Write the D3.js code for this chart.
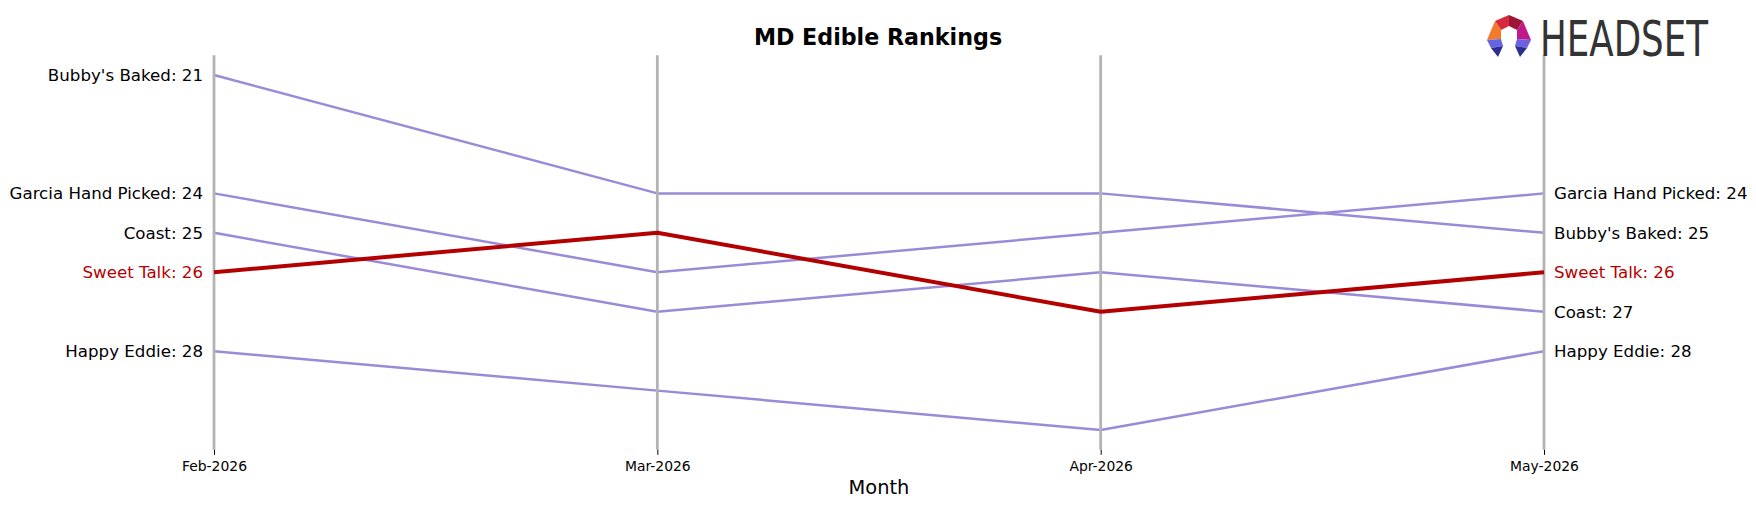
<!DOCTYPE html>
<html>
<head>
<meta charset="utf-8">
<script src="https://cdn.jsdelivr.net/npm/d3@7"></script>
<style>
  html, body { margin: 0; padding: 0; background: #fff; }
  svg { display: block; }
</style>
</head>
<body>
<svg id="chart" width="1756" height="507"></svg>
<script>
// ---- data ----
const months = ["Feb-2026", "Mar-2026", "Apr-2026", "May-2026"];
const brands = ["Bubby's Baked", "Garcia Hand Picked", "Coast", "Sweet Talk", "Happy Eddie"];
const bubbysBaked = [21, 24, 24, 25];
const garciaHandPicked = [24, 26, 25, 24];
const coast = [25, 27, 26, 27];
const sweetTalk = [26, 25, 27, 26];
const happyEddie = [28, 29, 30, 28];
const highlight = "Sweet Talk";
const title = "MD Edible Rankings";
const xLabel = "Month";

const seriesValues = [bubbysBaked, garciaHandPicked, coast, sweetTalk, happyEddie];
const series = brands.map((b, i) => ({ name: b, values: seriesValues[i] }));

// ---- layout ----
const svg = d3.select("#chart");
const font = "DejaVu Sans, sans-serif";
const purple = "#9a8ad8";
const red = "#b30000";

const x = d3.scalePoint().domain(months).range([214, 1544]);
const y = d3.scaleLinear().domain([20.5, 30.5]).range([55.3, 449.8]);

// purple lines first
const line = d3.line().x((d, i) => x(months[i])).y(d => y(d));
const others = series.filter(s => s.name !== highlight);
const hi = series.filter(s => s.name === highlight);
svg.append("g").selectAll("path").data(others).join("path")
  .attr("d", d => line(d.values))
  .attr("fill", "none")
  .attr("stroke", purple)
  .attr("stroke-width", 2.5)
  .attr("stroke-linejoin", "round");

// vertical month lines
svg.append("g").selectAll("line").data(months).join("line")
  .attr("x1", d => x(d)).attr("x2", d => x(d))
  .attr("y1", y(20.5)).attr("y2", y(30.5))
  .attr("stroke", "#b3b3b3").attr("stroke-width", 2.8);

// highlighted line on top
svg.append("g").selectAll("path").data(hi).join("path")
  .attr("d", d => line(d.values))
  .attr("fill", "none")
  .attr("stroke", red)
  .attr("stroke-width", 4)
  .attr("stroke-linejoin", "round");

// x axis
const xAxis = svg.append("g")
  .attr("transform", `translate(0,${y(30.5)})`)
  .call(d3.axisBottom(x).tickSize(5).tickPadding(6));
xAxis.select(".domain").remove();
xAxis.selectAll(".tick line").attr("stroke", "#000").attr("stroke-width", 1);
xAxis.selectAll(".tick text").attr("font-family", font).attr("font-size", "13.9px").attr("fill", "#000");

// left labels
svg.append("g").selectAll("text").data(series).join("text")
  .attr("x", x(months[0]) - 11)
  .attr("y", d => y(d.values[0]))
  .attr("dy", "0.35em")
  .attr("text-anchor", "end")
  .attr("font-family", font).attr("font-size", "16.67px")
  .attr("fill", d => d.name === highlight ? red : "#000")
  .text(d => `${d.name}: ${d.values[0]}`);

// right labels
const last = months.length - 1;
svg.append("g").selectAll("text").data(series).join("text")
  .attr("x", x(months[last]) + 10)
  .attr("y", d => y(d.values[last]))
  .attr("dy", "0.35em")
  .attr("text-anchor", "start")
  .attr("font-family", font).attr("font-size", "16.67px")
  .attr("fill", d => d.name === highlight ? red : "#000")
  .text(d => `${d.name}: ${d.values[last]}`);

// title
svg.append("text")
  .attr("x", 878).attr("y", 45)
  .attr("text-anchor", "middle")
  .attr("font-family", font).attr("font-weight", "bold").attr("font-size", "22.2px")
  .text(title);

// x label
svg.append("text")
  .attr("x", (x(months[0]) + x(months[last])) / 2).attr("y", 494)
  .attr("text-anchor", "middle")
  .attr("font-family", font).attr("font-size", "19.4px")
  .text(xLabel);

// logo
const logo = svg.append("g").attr("transform", "translate(1509,36)");
const pieces = [
  { c: "#d62a3e", p: [[-14,-15],[0,-21],[0,-10],[-8,-6]] },
  { c: "#9e1537", p: [[0,-21],[14,-15],[8,-6],[0,-10]] },
  { c: "#f47a2a", p: [[-14,-15],[-8,-6],[-8,3],[-22,4]] },
  { c: "#c0198a", p: [[14,-15],[22,4],[8,3],[8,-6]] },
  { c: "#6366e0", p: [[-22,4],[-8,3],[-6,10],[-18,12]] },
  { c: "#2b2e8e", p: [[-18,12],[-6,10],[-11,21]] },
  { c: "#6a62e0", p: [[22,4],[8,3],[6,10],[18,12]] },
  { c: "#2b2e8e", p: [[18,12],[6,10],[11,21]] }
];
logo.selectAll("polygon").data(pieces).join("polygon")
  .attr("points", d => d.p.map(q => q.join(",")).join(" "))
  .attr("fill", d => d.c);
svg.append("text")
  .attr("x", 1540).attr("y", 56)
  .attr("font-family", "Liberation Sans Narrow, DejaVu Sans Condensed, sans-serif")
  .attr("font-size", "49px")
  .attr("textLength", 168).attr("lengthAdjust", "spacingAndGlyphs")
  .attr("fill", "#333")
  .text("HEADSET");
</script>
</body>
</html>
